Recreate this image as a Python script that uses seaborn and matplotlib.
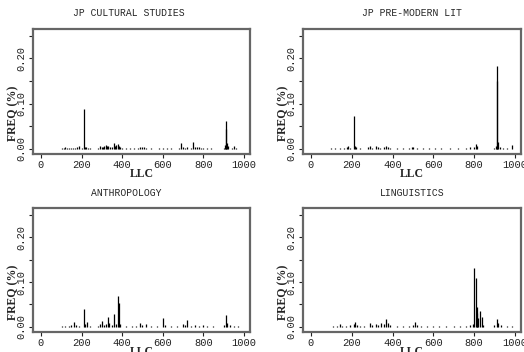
import numpy as np
import pandas as pd
import matplotlib
matplotlib.use("Agg")
import matplotlib.pyplot as plt
import seaborn as sns

# panel titles
titles = ["JP CULTURAL STUDIES", "JP PRE-MODERN LIT", "ANTHROPOLOGY", "LINGUISTICS"]

# LLC class numbers and frequencies
llc_cult = [105, 115, 120, 130, 140, 150, 160, 170, 180, 190, 200, 210, 215, 220, 230, 240,
            280, 290, 300, 305, 310, 320, 325, 330, 340, 350, 360, 365, 370, 380, 385, 390,
            400, 420, 440, 460, 480, 490, 500, 510, 520, 540, 580, 600, 620, 640, 680, 690,
            700, 710, 720, 740, 750, 760, 770, 780, 790, 800, 820, 840, 900, 905, 910, 912,
            915, 920, 940, 950, 960]
freq_cult = [0.002, 0.002, 0.004, 0.002, 0.002, 0.003, 0.002, 0.003, 0.004, 0.007, 0.003, 0.089, 0.005, 0.004, 0.003, 0.002,
             0.002, 0.006, 0.005, 0.004, 0.006, 0.008, 0.006, 0.007, 0.005, 0.004, 0.012, 0.006, 0.008, 0.010, 0.007, 0.004,
             0.002, 0.002, 0.002, 0.002, 0.002, 0.005, 0.004, 0.005, 0.003, 0.002, 0.002, 0.002, 0.002, 0.002, 0.002, 0.013,
             0.004, 0.003, 0.004, 0.003, 0.016, 0.005, 0.004, 0.004, 0.003, 0.003, 0.002, 0.002, 0.003, 0.008, 0.061, 0.044,
             0.012, 0.006, 0.003, 0.006, 0.003]

llc_premod = [100, 120, 140, 160, 175, 180, 190, 210, 215, 220, 240, 280, 290, 300, 320, 330,
              340, 360, 370, 380, 390, 420, 450, 480, 495, 500, 520, 550, 580, 610, 640, 680,
              720, 760, 780, 800, 810, 815, 900, 905, 910, 912, 918, 925, 940, 960, 985]
freq_premod = [0.002, 0.002, 0.002, 0.003, 0.005, 0.006, 0.003, 0.072, 0.006, 0.004, 0.002, 0.004, 0.006, 0.003, 0.007, 0.004,
               0.003, 0.005, 0.006, 0.004, 0.003, 0.002, 0.002, 0.002, 0.004, 0.004, 0.002, 0.002, 0.002, 0.003, 0.002, 0.002,
               0.003, 0.003, 0.004, 0.005, 0.011, 0.006, 0.003, 0.006, 0.183, 0.151, 0.015, 0.005, 0.003, 0.002, 0.008]

llc_anth = [105, 120, 140, 150, 165, 175, 190, 210, 215, 225, 240, 280, 290, 300, 310, 320,
            330, 335, 350, 360, 370, 378, 385, 390, 420, 450, 470, 490, 500, 520, 540, 570,
            600, 610, 640, 670, 700, 710, 720, 740, 760, 780, 800, 820, 850, 900, 910, 915,
            930, 950, 970]
freq_anth = [0.002, 0.002, 0.003, 0.004, 0.011, 0.004, 0.003, 0.040, 0.006, 0.010, 0.002, 0.003, 0.006, 0.013, 0.005, 0.007,
             0.023, 0.008, 0.005, 0.029, 0.007, 0.069, 0.054, 0.006, 0.003, 0.002, 0.003, 0.009, 0.004, 0.006, 0.002, 0.002,
             0.019, 0.004, 0.002, 0.002, 0.007, 0.004, 0.016, 0.003, 0.004, 0.003, 0.004, 0.002, 0.002, 0.004, 0.027, 0.008,
             0.004, 0.002, 0.002]

llc_ling = [110, 130, 140, 150, 170, 190, 210, 215, 225, 240, 260, 290, 300, 320, 330, 345,
            360, 370, 380, 390, 420, 450, 480, 500, 510, 520, 540, 570, 600, 630, 660, 700,
            730, 760, 780, 795, 800, 808, 812, 815, 820, 830, 838, 845, 900, 910, 915, 930,
            960, 985]
freq_ling = [0.002, 0.002, 0.007, 0.003, 0.003, 0.004, 0.006, 0.011, 0.004, 0.002, 0.002, 0.009, 0.004, 0.006, 0.005, 0.008,
             0.006, 0.017, 0.008, 0.004, 0.002, 0.002, 0.003, 0.004, 0.012, 0.004, 0.002, 0.002, 0.002, 0.002, 0.002, 0.002,
             0.002, 0.003, 0.004, 0.006, 0.131, 0.108, 0.030, 0.045, 0.020, 0.036, 0.022, 0.005, 0.004, 0.018, 0.008, 0.004,
             0.002, 0.002]

y_ticks = [0.0, 0.05, 0.10, 0.15, 0.20, 0.25]
y_tick_labels = ["0.00", "", "0.10", "", "0.20", ""]
x_ticks = [0, 200, 400, 600, 800, 1000]


def build_frame():
    parts = []
    for name, llc, freq in zip(titles,
                               [llc_cult, llc_premod, llc_anth, llc_ling],
                               [freq_cult, freq_premod, freq_anth, freq_ling]):
        parts.append(pd.DataFrame({"field": name, "LLC": llc, "FREQ": freq}))
    return pd.concat(parts, ignore_index=True)


def draw_panel(ax, df, title, title_x):
    ax.vlines(df["LLC"], 0, df["FREQ"], color="black", linewidth=0.9)
    ax.set_xlim(-39, 1030)
    ax.set_ylim(-0.0102, 0.265)
    ax.set_xticks(x_ticks)
    ax.set_xticklabels([str(t) for t in x_ticks], family="Liberation Mono", fontsize=7.5)
    ax.set_yticks(y_ticks)
    ax.set_yticklabels(y_tick_labels, family="Liberation Mono", fontsize=7.5,
                       rotation=90, va="center")
    ax.tick_params(axis="both", direction="out", length=3, width=0.8, colors="#222222", pad=2)
    for s in ax.spines.values():
        s.set_visible(True)
        s.set_color("#666666")
        s.set_linewidth(1.6)
    ax.set_title(title, family="Liberation Mono", fontsize=7, x=title_x, pad=9)
    ax.set_xlabel("LLC", family="Liberation Serif", fontsize=8.5, fontweight="bold", labelpad=-2)
    ax.set_ylabel("FREQ (%)", family="Liberation Serif", fontsize=8.5, fontweight="bold")
    ax.yaxis.set_label_coords(-0.065, 0.32)


def main():
    sns.set_style("ticks")
    df = build_frame()
    fig = plt.figure(figsize=(5.24, 3.52), dpi=100)
    W, H = 524.0, 352.0
    boxes = [(33, 29, 250, 153.5), (303, 29, 521, 153.5),
             (33, 208, 250, 331.5), (303, 208, 521, 331.5)]
    title_xs = [0.44, 0.5, 0.43, 0.5]
    for (x0, y0, x1, y1), name, tx in zip(boxes, titles, title_xs):
        ax = fig.add_axes([x0 / W, 1 - y1 / H, (x1 - x0) / W, (y1 - y0) / H])
        draw_panel(ax, df[df["field"] == name], name, tx)
    fig.savefig("out.png", dpi=100, facecolor="white")


if __name__ == "__main__":
    main()
